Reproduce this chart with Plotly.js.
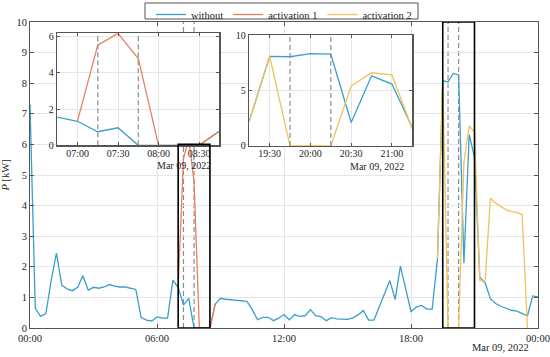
<!DOCTYPE html>
<html>
<head>
<meta charset="utf-8">
<script src="https://cdn.plot.ly/plotly-3.0.1.min.js"></script>
<style>html,body{margin:0;padding:0;background:#fff;}#chart{width:550px;height:357px;}</style>
</head>
<body>
<div id="chart"></div>
<script>
// ---- data (15-minute resolution, 09 Mar 2022) ----
const day = '2022-03-09';
const stepMinutes = 15;
// "without" : 00:00 ... 24:00
const withoutKW = [
  7.30, 0.64, 0.38, 0.47, 1.55, 2.45, 1.40, 1.28, 1.22, 1.33, 1.71, 1.24,
  1.33, 1.30, 1.34, 1.42, 1.37, 1.34, 1.34, 1.29, 1.26, 0.34, 0.26, 0.23,
  0.36, 0.32, 0.32, 1.56, 1.33, 0.75, 0.97, 0.00, 0.00, 0.00, 0.00, 0.78,
  0.97, 0.94, 0.92, 0.91, 0.90, 0.87, 0.60, 0.27, 0.35, 0.35, 0.24, 0.32,
  0.44, 0.27, 0.43, 0.38, 0.40, 0.60, 0.40, 0.37, 0.24, 0.34, 0.30, 0.28,
  0.28, 0.33, 0.43, 0.57, 0.26, 0.26, 0.68, 1.08, 1.55, 0.93, 2.02, 1.28,
  0.54, 0.68, 0.74, 0.62, 0.62, 2.26, 8.08, 8.04, 8.32, 8.27, 2.12, 6.32,
  5.58, 1.65, 1.48, 0.96, 0.80, 0.71, 0.64, 0.58, 0.55, 0.48, 0.40, 1.05,
  1.02
];
// "activation 1" : from 07:00
const act1Start = '07:00';
const act1KW = [1.35, 5.54, 6.19, 4.80, 0.00, 0.00, 0.00, 0.78];
// "activation 2" : from 19:15
const act2Start = '19:15';
const act2KW = [2.26, 8.08, 0.00, 0.00, 0.00, 5.42, 6.60, 6.40, 1.55, 1.52,
                4.24, 4.08, 3.96, 3.86, 3.80, 3.78, 3.70, 0.00];
// activation windows (dashed) and zoom boxes
const act1Window = ['07:15', '07:45'];
const act2Window = ['19:45', '20:15'];
const zoomBoxes = [
  {from: '07:00', to: '08:30', top: 6},
  {from: '19:30', to: '21:00', top: 10}
];
const inset1Range = ['06:45', '08:45'];
const inset2Range = ['19:15', '21:15'];
const seriesNames = ['without', 'activation 1', 'activation 2'];
const seriesColors = ['#3a9fcc', '#e8805e', '#f0c25c'];
const dateLabel = 'Mar 09, 2022';

// ---- helpers ----
function at(hhmm) { return day + ' ' + hhmm; }
function timesFrom(hhmm, n) {
  const [h, m] = hhmm.split(':').map(Number);
  const base = Date.UTC(2022, 2, 9, h, m);
  const out = [];
  for (let i = 0; i < n; i++) {
    const d = new Date(base + i * stepMinutes * 60000);
    out.push(d.toISOString().slice(0, 16).replace('T', ' '));
  }
  return out;
}
const tWithout = timesFrom('00:00', withoutKW.length);
const tAct1 = timesFrom(act1Start, act1KW.length);
const tAct2 = timesFrom(act2Start, act2KW.length);

const FONT = 'Liberation Serif, Times New Roman, serif';
const TXT = '#262626';
const series = [[tWithout, withoutKW], [tAct1, act1KW], [tAct2, act2KW]];

const traces = [];
['', '2', '3'].forEach((ax, k) => {
  series.forEach((s, i) => {
    traces.push({
      type: 'scatter', mode: 'lines', x: s[0], y: s[1],
      name: seriesNames[i], showlegend: k === 0,
      line: {color: seriesColors[i], width: 1.3},
      xaxis: 'x' + ax, yaxis: 'y' + ax, hoverinfo: 'skip'
    });
  });
});

const shapes = [];
// legend frame
shapes.push({type: 'rect', xref: 'paper', yref: 'paper', x0: 0.2264, x1: 0.7638, y0: 1.0098, y1: 1.0621,
  line: {color: '#555', width: 1}, fillcolor: '#fff', layer: 'below'});
function dashed(tm, xr, yr, layer) {
  shapes.push({type: 'line', xref: xr, yref: yr + ' domain', x0: at(tm), x1: at(tm), y0: 0, y1: 1,
    line: {color: '#8c8c8c', width: 1.2, dash: '5px,3px'}, layer: layer});
}
act1Window.forEach(t => { dashed(t, 'x', 'y', 'below'); dashed(t, 'x2', 'y2', 'above'); });
act2Window.forEach(t => { dashed(t, 'x', 'y', 'below'); dashed(t, 'x3', 'y3', 'above'); });
zoomBoxes.forEach(b => {
  shapes.push({type: 'rect', xref: 'x', yref: 'y', x0: at(b.from), x1: at(b.to), y0: 0, y1: b.top,
    line: {color: '#000', width: 1.6}, fillcolor: 'rgba(0,0,0,0)', layer: 'above'});
});

const axBase = {
  showline: true, linecolor: '#555', linewidth: 1, mirror: 'ticks',
  ticks: 'inside', ticklen: 4, tickcolor: '#555', tickwidth: 1,
  showgrid: true, gridcolor: '#e6e6e6', gridwidth: 1, zeroline: false,
  tickfont: {family: FONT, size: 10.5, color: TXT}
};
const insetAx = Object.assign({}, axBase, {linecolor: '#555', linewidth: 1.5, ticklen: 3, tickfont: {family: FONT, size: 10, color: TXT}});

const layout = {
  width: 550, height: 357,
  margin: {l: 30, r: 12, t: 22, b: 29, pad: 0, autoexpand: false},
  paper_bgcolor: '#fff', plot_bgcolor: '#fff',
  font: {family: FONT, color: TXT, size: 10.5},
  showlegend: true,
  legend: {orientation: 'h', xref: 'paper', yref: 'container', x: 0.5, xanchor: 'center', y: 1.0, yanchor: 'top',
    borderwidth: 0, bgcolor: 'rgba(0,0,0,0)',
    font: {family: FONT, size: 10.5, color: TXT}, tracegroupgap: 0, itemwidth: 30},
  xaxis: Object.assign({}, axBase, {type: 'date', range: [at('00:00'), '2022-03-10 00:00'],
    tick0: at('00:00'), dtick: 6 * 3600000, tickformat: '%H:%M'}),
  yaxis: Object.assign({}, axBase, {range: [0, 10], dtick: 1,
    title: {text: '<i>P</i> [kW]', font: {family: FONT, size: 10.5, color: TXT}, standoff: 8}}),
  xaxis2: Object.assign({}, insetAx, {type: 'date', domain: [0.0537, 0.3726], anchor: 'y2',
    range: [at(inset1Range[0]), at(inset1Range[1])], tick0: at('07:00'), dtick: 1800000, tickformat: '%H:%M',
    ticklabelstandoff: -2}),
  yaxis2: Object.assign({}, insetAx, {domain: [0.597, 0.963], anchor: 'x2', range: [0, 6.19], dtick: 2}),
  xaxis3: Object.assign({}, insetAx, {type: 'date', domain: [0.4317, 0.7526], anchor: 'y3',
    range: [at(inset2Range[0]), at(inset2Range[1])], tick0: at('19:30'), dtick: 1800000, tickformat: '%H:%M',
    ticklabelstandoff: -2}),
  yaxis3: Object.assign({}, insetAx, {domain: [0.5948, 0.9575], anchor: 'x3', range: [0, 10], dtick: 5}),
  shapes: shapes,
  annotations: [
    {text: dateLabel, xref: 'x domain', yref: 'y domain', x: 1, y: 0, xanchor: 'right', yanchor: 'top',
      xshift: -7, yshift: -12, showarrow: false, font: {family: FONT, size: 10.5, color: TXT}},
    {text: dateLabel, xref: 'x2 domain', yref: 'y2 domain', x: 1, y: 0, xanchor: 'right', yanchor: 'top',
      xshift: -6, yshift: -13, showarrow: false, font: {family: FONT, size: 10, color: TXT}},
    {text: dateLabel, xref: 'x3 domain', yref: 'y3 domain', x: 1, y: 0, xanchor: 'right', yanchor: 'top',
      xshift: -6, yshift: -13, showarrow: false, font: {family: FONT, size: 10, color: TXT}}
  ]
};

Plotly.newPlot('chart', traces, layout, {staticPlot: true, displayModeBar: false});
</script>
</body>
</html>
